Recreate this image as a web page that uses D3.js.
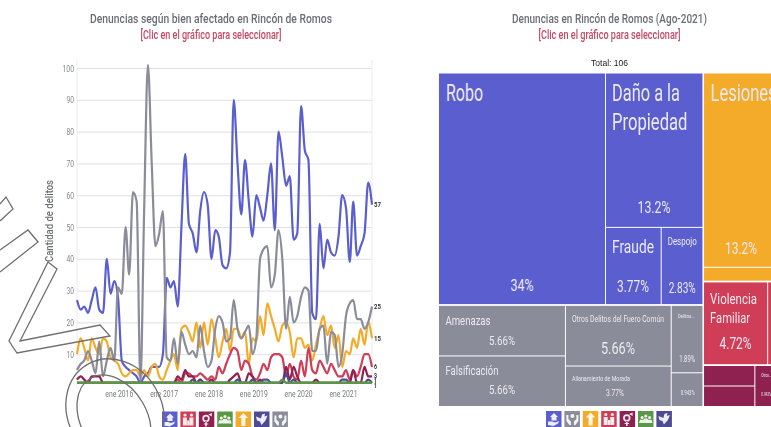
<!DOCTYPE html>
<html lang="es">
<head>
<meta charset="utf-8">
<script src="https://cdnjs.cloudflare.com/ajax/libs/d3/7.8.5/d3.min.js"></script>
<style>
html,body{margin:0;padding:0;background:#fff;overflow:hidden}
svg{display:block;filter:blur(.45px);font-family:Roboto,"Noto Sans",sans-serif}
</style>
</head>
<body>
<svg id="c" width="771" height="427"></svg>
<script>
const lineTitle = "Denuncias según bien afectado en Rincón de Romos";
const mapTitle = "Denuncias en Rincón de Romos (Ago-2021)";
const subTitle = "[Clic en el gráfico para seleccionar]";
const yAxisTitle = "Cantidad de delitos";
const totalLabel = "Total: 106";
const yTicks = [10,20,30,40,50,60,70,80,90,100];
const yearTicks = ["2016","2017","2018","2019","2020","2021"];
const months = d3.range(80).map(i => new Date(2015, i, 1));

const patrimonio = [27,24,25,23,27,31,24,23,40,29,
  33,28,8,6,5,4,3,1,3,4,
  6,6,6,10,34,31,33,25,50,73,
  51,48,42,55,61,57,40,49,47,38,
  37,42,90,70,54,71,58,47,60,56,
  52,60,70,49,80,72,63,66,46,48,
  88,74,71,23,21,51,37,46,42,41,
  47,60,56,39,58,41,44,48,64,57];
const otros = [5,7,8,11,8,4,14,3,8,12,
  8,31,29,50,35,61,58,1,55,101,
  70,44,48,55,9,8,15,7,17,13,
  10,11,9,19,11,6,8,18,22,20,
  14,15,27,18,15,17,19,10,15,40,
  43,44,31,35,49,40,18,28,20,22,
  28,31,30,11,11,18,19,7,17,16,
  6,10,22,26,27,21,21,18,20,25];
const vida = [10,15,12,8,15,12,10,15,14,9,
  8,7,4,3,4,5,5,3,5,3,
  6,7,3,2,5,8,10,5,18,19,
  17,14,20,12,20,13,21,15,9,14,
  18,11,18,18,15,17,7,15,14,22,
  16,26,22,18,14,19,20,17,9,15,
  15,12,13,8,13,18,22,16,19,12,
  16,6,11,10,15,12,18,13,20,15];
const familia = [1,1,1,1,1,1,1,1,1,1,
  1,1,1,1,1,1,1,1,1,1,
  1,1,1,1,1,1,1,2,1,4,
  4,3,3,4,3,2,3,2,6,4,
  7,10,12,11,5,8,7,3,2,4,
  7,5,9,10,10,9,3,7,3,2,
  8,3,12,5,4,8,6,4,7,5,
  3,3,5,2,5,3,6,10,10,6];
const libertad = [2,3,2,1,3,3,3,1,1,1,
  1,1,1,1,1,1,1,1,1,1,
  1,1,1,1,1,1,1,3,2,5,
  3,3,1,2,1,1,2,1,1,1,
  1,2,3,4,1,1,4,3,1,2,
  1,1,1,1,1,1,6,2,6,3,
  1,1,1,1,2,1,1,1,1,1,
  1,1,1,1,5,1,1,6,3,3];
const sociedad = [1,1,1,1,1,1,1,1,1,1,
  1,1,1,1,1,1,1,1,1,1,
  1,1,1,1,1,1,1,1,1,1,
  1,2,1,2,1,1,1,1,1,1,
  1,1,1,2,1,1,1,2,1,1,
  2,2,1,1,1,1,4,1,2,1,
  1,1,1,1,1,1,1,1,1,1,
  1,2,2,1,1,1,1,1,2,1];
const estado = [1,1,1,1,1,1,1,1,1,1,
  1,1,1,1,1,1,1,1,1,1,
  1,1,1,1,1,1,1,1,1,1,
  1,1,1,1,1,1,1,1,1,1,
  1,1,1,1,1,1,1,1,1,1,
  1,1,1,1,1,2,1,1,1,1,
  1,1,1,1,1,1,1,1,1,1,
  1,1,1,1,1,1,1,1,1,1];

const colorBlue="#5b5ecf", colorGray="#8b8c99", colorOrange="#f5ab2a", colorRed="#cf3d57",
      colorMaroon="#8e2150", colorPurple="#4f4a96", colorGreen="#5a9746";

const lineOrder = [
  [patrimonio,colorBlue],[vida,colorOrange],[otros,colorGray],
  [familia,colorRed],[libertad,colorMaroon],[sociedad,colorPurple],[estado,colorGreen]
];
const endLabels = [[57,57],[25,25],[15,15],[6,6],[3,3.2],[1,1.6],[1,0.2]];

// treemap values
const robo=36, danio=14, fraude=4, despojo=3;
const amenazas=6, falsificacion=6, otrosDelitos=6, allanamiento=4, delitosOtros=2, grisMenor=1;
const lesiones=14, vidaMenor=1, violencia=5, famMenor=1, libA=1, libB=1, libC=1;
const total = 106;

const svg = d3.select("#c");
const title = (x,y,t,fs,w,fill) => svg.append("text").attr("x",x).attr("y",y).attr("text-anchor","middle")
  .attr("font-size",fs).attr("font-weight",500).attr("fill",fill).attr("textLength",w).attr("lengthAdjust","spacingAndGlyphs").text(t);
title(211,23,lineTitle,13,242,"#6a6e74");
title(211,39,subTitle,12,141,"#c24a66");
title(609.5,23,mapTitle,13,195,"#6a6e74");
title(609.5,39,subTitle,12,142,"#c24a66");
svg.append("text").attr("x",609.5).attr("y",66).attr("text-anchor","middle").attr("font-size",9)
  .attr("font-family","Liberation Sans").attr("fill","#222").attr("textLength",37).attr("lengthAdjust","spacingAndGlyphs").text(totalLabel);

// ---- line chart
const left=77,right=372,top0=60,bottom=386;
const x = d3.scaleTime().domain([months[0],months[79]]).range([left,right]);
const y = d3.scaleLinear().domain([0,100]).range([bottom,68]);

const gy = svg.append("g").attr("transform",`translate(${left},0)`)
  .call(d3.axisLeft(y).tickValues(yTicks).tickSize(-(right-left)).tickFormat(d3.format("d")));
gy.select(".domain").remove();
gy.selectAll(".tick line").attr("stroke","#e0e0e5").attr("stroke-width",1);
gy.selectAll(".tick text").attr("x",-3).attr("fill","#85878d").attr("font-size",9.5).attr("font-family","Roboto")
  .each(function(d){ d3.select(this).attr("textLength", d===100?11.5:7.5).attr("lengthAdjust","spacingAndGlyphs"); });
[left,right].forEach(v => svg.append("line").attr("x1",v).attr("x2",v).attr("y1",top0).attr("y2",bottom).attr("stroke","#ececf0"));

const gx = svg.append("g").attr("transform",`translate(0,${bottom})`)
  .call(d3.axisBottom(x).tickValues(yearTicks.map(t=>new Date(+t,0,1))).tickSize(0)
    .tickFormat(d=>"ene "+d.getFullYear()));
gx.select(".domain").remove();
gx.selectAll(".tick text").attr("y",4).attr("dx",-3).attr("dy","0.71em").attr("fill","#797b83").attr("font-size",9.5)
  .attr("font-family","Roboto").attr("textLength",28).attr("lengthAdjust","spacingAndGlyphs");

const line = d3.line().x((d,i)=>x(months[i])).y(d=>y(d)).curve(d3.curveMonotoneX);
svg.append("g").selectAll("path").data(lineOrder).join("path")
  .attr("d",d=>line(d[0])).attr("fill","none").attr("stroke",d=>d[1]).attr("stroke-width",d=>d[1]===colorGreen?2.4:2.2)
  .attr("stroke-linejoin","round");

svg.append("text").attr("transform","translate(53,221) rotate(-90)").attr("text-anchor","middle")
  .attr("font-size",11).attr("font-weight",500).attr("fill","#6a6e74").attr("textLength",82).attr("lengthAdjust","spacingAndGlyphs").text(yAxisTitle);

svg.append("g").selectAll("text").data(endLabels).join("text")
  .attr("x",right+2).attr("y",d=>y(d[1])+2.5).attr("font-size",7.5).attr("font-weight",700).attr("fill","#333")
  .attr("textLength",d=>d[0]>9?7:3).attr("lengthAdjust","spacingAndGlyphs").text(d=>d[0]);

// ---- treemap
const tree = {name:"root",kind:"dice",children:[
  {name:"left",kind:"slice",children:[
    {name:"blue",kind:"dice",color:colorBlue,children:[
      {name:"Robo",value:robo},
      {name:"b2",kind:"slice",children:[
        {name:"Daño a la Propiedad",value:danio},
        {name:"b3",kind:"dice",children:[{name:"Fraude",value:fraude},{name:"Despojo",value:despojo}]}
      ]}
    ]},
    {name:"gray",kind:"dice",color:colorGray,children:[
      {name:"g1",kind:"slice",children:[{name:"Amenazas",value:amenazas},{name:"Falsificación",value:falsificacion}]},
      {name:"g2",kind:"slice",children:[{name:"Otros Delitos del Fuero Común",value:otrosDelitos},{name:"Allanamiento de Morada",value:allanamiento}]},
      {name:"g3",kind:"slice",children:[{name:"Delitos...",value:delitosOtros},{name:"gris4",value:grisMenor}]}
    ]}
  ]},
  {name:"right",kind:"slice",children:[
    {name:"orange",kind:"slice",color:colorOrange,children:[{name:"Lesiones",value:lesiones},{name:"o2",value:vidaMenor}]},
    {name:"red",kind:"dice",color:colorRed,children:[{name:"Violencia Familiar",value:violencia},{name:"r2",value:famMenor}]},
    {name:"maroon",kind:"dice",color:colorMaroon,children:[
      {name:"m1",kind:"slice",children:[{name:"m1a",value:libA},{name:"m1b",value:libB}]},
      {name:"Otros...",value:libC}
    ]}
  ]}
]};
const root = d3.hierarchy(tree).sum(d=>d.value||0);
const mapX=439, mapY=73.5, mapW=341, mapH=332.5;
d3.treemap().size([mapW,mapH]).round(false)
  .paddingInner(d => d.depth===0 ? 1.6 : d.depth===1 ? 1.8 : 1)
  .tile((n,x0,y0,x1,y1) => (n.data.kind==="dice"?d3.treemapDice:d3.treemapSlice)(n,x0,y0,x1,y1))(root);
const colorOf = n => { let a=n; while(a){ if(a.data.color) return a.data.color; a=a.parent; } return "#999"; };
const gm = svg.append("g").attr("transform",`translate(${mapX},${mapY})`);
gm.selectAll("rect").data(root.leaves()).join("rect")
  .attr("x",d=>d.x0).attr("y",d=>d.y0).attr("width",d=>d.x1-d.x0).attr("height",d=>d.y1-d.y0)
  .attr("fill",colorOf);

const pct = v => d3.format(".3~r")(v/total*100)+"%";
// label placement per leaf, relative to the leaf's corner: [text, dx, dy, fontSize, width]
const nameStyle = {
  "Robo":[[ "Robo",7,27,23,37]],
  "Daño a la Propiedad":[["Daño a la",6,27,23,68],["Propiedad",6,56,23,75.5]],
  "Fraude":[["Fraude",6,25,18,42]],
  "Despojo":[["Despojo",6,17,10.5,29]],
  "Amenazas":[["Amenazas",6.5,19,13,45]],
  "Falsificación":[["Falsificación",6.5,19,13.5,53]],
  "Otros Delitos del Fuero Común":[["Otros Delitos del Fuero Común",6,16,8.2,92]],
  "Allanamiento de Morada":[["Allanamiento de Morada",6,14,6.5,58]],
  "Delitos...":[["Delitos...",6,12.5,5,17]],
  "Lesiones":[["Lesiones",6.5,27,23,66]],
  "Violencia Familiar":[["Violencia",6,22,15.5,47],["Familiar",6,41,15.5,40]],
  "Otros...":[["Otros...",6,11,5,10]]
};
const valueStyle = {
  "Robo":[83,217,16,23],"Daño a la Propiedad":[48,139,16,33],"Fraude":[27,64,16,32],"Despojo":[20.5,65,15,27],
  "Amenazas":[63,39,13,26],"Falsificación":[63,38,13,26],"Otros Delitos del Fuero Común":[52,48,16,34],
  "Allanamiento de Morada":[49,29,8.5,18],"Delitos...":[15.5,56,8.5,16],"gris4":[16,22,6.5,14],
  "Lesiones":[37,180,16,32],"Violencia Familiar":[31.5,67,16,32],"Otros...":[11,30,5,10]
};
root.leaves().forEach(n=>{
  const g = gm.append("g").attr("transform",`translate(${n.x0},${n.y0})`);
  (nameStyle[n.data.name]||[]).forEach(s=>{
    g.append("text").attr("x",s[1]).attr("y",s[2]).attr("font-size",s[3]).attr("fill","#ece9f1")
     .attr("textLength",s[4]).attr("lengthAdjust","spacingAndGlyphs").text(s[0]);
  });
  const v = valueStyle[n.data.name];
  if(v) g.append("text").attr("x",v[0]).attr("y",v[1]).attr("text-anchor","middle").attr("font-size",v[2]).attr("fill","#ece9f1")
     .attr("textLength",v[3]).attr("lengthAdjust","spacingAndGlyphs").text(pct(n.value));
});

// ---- icon legends
const icons = {
  patrimonio:'M8 2 L12 6 H10.5 V9.5 H5.5 V6 H4 Z M2 10.5 H6 L9 11.5 L13 10 L12 12.5 L7.5 15 L2 14 Z',
  otros:'M6 5 A2 2 0 1 1 10 5 A2 2 0 1 1 6 5 Z M2 4 H4 V8 L6.5 10.5 V14 H5 L2 10 Z M14 4 H12 V8 L9.5 10.5 V14 H11 L14 10 Z',
  vida:'M7.8 1.5 L12.5 6.5 H9.8 V14.5 H5.8 V6.5 H3 Z',
  familia:'M3 3.5 A1.6 1.6 0 1 1 6.2 3.5 A1.6 1.6 0 1 1 3 3.5 Z M9.5 3.5 A1.6 1.6 0 1 1 12.7 3.5 A1.6 1.6 0 1 1 9.5 3.5 Z M2.5 6 H6.5 V14 H2.5 Z M9 6 H13 V14 H9 Z M6.8 9 H8.8 V14 H6.8 Z',
  libertad:'M3.5 7 A3.7 3.7 0 1 1 10.9 7 A3.7 3.7 0 1 1 3.5 7 Z M5.2 7 A2 2 0 1 0 9.2 7 A2 2 0 1 0 5.2 7 Z M6.4 10 H8 V12 H9.5 V13 H8 V15 H6.4 V13 H5 V12 H6.4 Z M9.5 3 L13 1.5 L13 5 Z',
  sociedad:'M2.5 6.5 A1.6 1.6 0 1 1 5.7 6.5 A1.6 1.6 0 1 1 2.5 6.5 Z M6.2 5 A1.6 1.6 0 1 1 9.4 5 A1.6 1.6 0 1 1 6.2 5 Z M10 6.5 A1.6 1.6 0 1 1 13.2 6.5 A1.6 1.6 0 1 1 10 6.5 Z M1 12 L2 8.8 H5.5 L6 7.5 H9.5 L10 8.8 H13.5 L14.5 12 Z',
  estado:'M2 5 L7 7 L8 3 L11 2 L10.5 5 L13.5 4 L11.5 9 L7.5 13.5 L6 10 L3 9 Z'
};
const colorsByKey = {patrimonio:colorBlue,familia:colorRed,libertad:colorMaroon,sociedad:colorGreen,vida:colorOrange,estado:colorPurple,otros:colorGray};
const legendLeft = ["patrimonio","familia","libertad","sociedad","vida","estado","otros"];
const legendRight = ["patrimonio","otros","vida","familia","libertad","sociedad","estado"];
const legend = (keys,x0,y0) => {
  const sc = d3.scalePoint().domain(keys).range([x0,x0+6*18.4]);
  const g = svg.append("g").selectAll("g").data(keys).join("g").attr("transform",k=>`translate(${sc(k)},${y0})`);
  g.append("rect").attr("width",15.5).attr("height",16).attr("fill",k=>colorsByKey[k]);
  g.append("path").attr("d",k=>icons[k]).attr("fill","#fff").attr("fill-rule","evenodd").attr("opacity",.9);
};
legend(legendLeft,162,411.5);
legend(legendRight,546,411);

// ---- hand-drawn overlay strokes on the left side of the picture
const overlay = svg.append("g").attr("fill","none").attr("stroke","#6f6f6f").attr("stroke-width",1.3);
overlay.append("path").attr("d","M57 269 L20 341 L100 325 L110 336 L17 353 L9 341 L48 262 Z");
overlay.append("path").attr("d","M0 250 L28 230 L38 242 L0 272");
overlay.append("path").attr("d","M0 204 L6 197 L13 209 L0 221");
overlay.append("ellipse").attr("cx",115).attr("cy",412).attr("rx",47).attr("ry",55).attr("transform","rotate(-30 115 412)");
overlay.append("ellipse").attr("cx",114).attr("cy",419).attr("rx",33).attr("ry",47).attr("transform","rotate(-30 114 419)");
</script>
</body>
</html>
